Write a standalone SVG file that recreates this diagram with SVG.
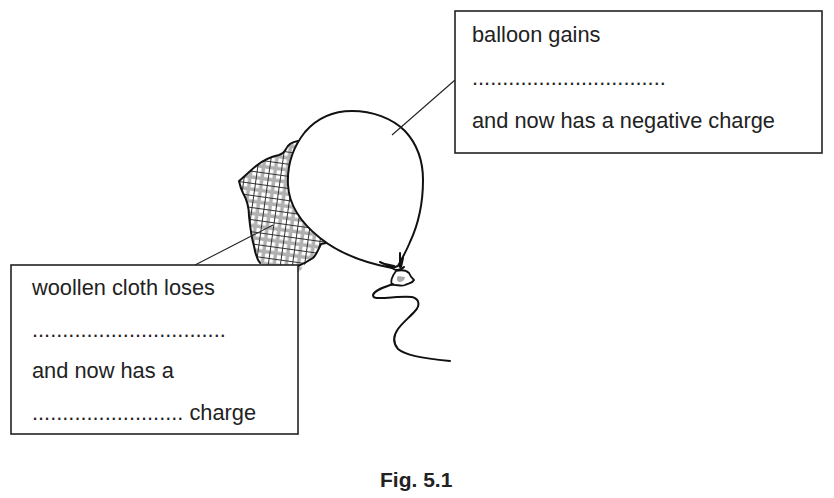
<svg xmlns="http://www.w3.org/2000/svg" width="834" height="498" viewBox="0 0 834 498">
<defs>
<pattern id="plaid" width="12" height="12" patternUnits="userSpaceOnUse" patternTransform="rotate(8)">
<rect width="12" height="12" fill="#ffffff"/>
<rect x="6.5" y="0" width="3.5" height="12" fill="#b0b0b0"/>
<rect x="0" y="6.5" width="12" height="3.5" fill="#b0b0b0"/>
<line x1="2.5" y1="0" x2="2.5" y2="12" stroke="#333" stroke-width="1"/>
<line x1="0" y1="2.5" x2="12" y2="2.5" stroke="#333" stroke-width="1"/>
</pattern>
<style>
.box{fill:#fff;stroke:#222;stroke-width:1.6}
.t{font-family:"Liberation Sans",Arial,sans-serif;font-size:21.8px;fill:#222}
.lead{stroke:#222;stroke-width:1.1;fill:none}
.ol{stroke:#111;stroke-width:2;fill:none;stroke-linejoin:round;stroke-linecap:round}
.bf{stroke:#111;stroke-width:2;fill:#fff;stroke-linejoin:round}
</style>
</defs>
<rect width="834" height="498" fill="#fff"/>

<g id="cloth">
<path d="M 298 141 C 292 142 288 144 286 149 C 284 153 282 154 279 155 C 270 157 262 161 256 166 C 251 170 245 176 239 181 C 240 186 242 191 243 193 C 247 200 249 208 249 216 C 250 226 251 236 254 246 C 255 252 256 258 260 263 L 266 272 L 300 272 C 303 266 306 262 313 258 C 317 254 318 250 321 244 L 326 243 L 335 225 L 315 150 Z" fill="url(#plaid)"/>
<path class="ol" d="M 298 141 C 292 142 288 144 286 149 C 284 153 282 154 279 155 C 270 157 262 161 256 166 C 251 170 245 176 239 181 C 240 186 242 191 243 193 C 247 200 249 208 249 216 C 250 226 251 236 254 246 C 255 252 256 258 260 263"/>
<path class="ol" d="M 298 266 C 303 264 307 262 313 258 C 317 254 318 250 321 244 L 326 243"/>
</g>

<g id="balloon">
<path class="bf" d="M 392 268 C 360 262 335 250 320 238 C 300 222 289 205 288 185 C 287 165 293 147 305 132 C 318 117 335 111 352 111 C 372 111 392 118 405 131 C 418 145 423 162 423 180 C 423 205 418 225 410 242 C 406 252 401 260 398 266 Z"/>
<path class="ol" d="M 392 268 C 396 271 400 271 404 267"/>
<path d="M 396 271 C 393 275 390 281 392 285 C 396 284 401 287 405 285 C 408 283 412 284 414 280 C 412 278 410 276 409 273 C 406 270 400 270 396 271 Z" fill="#fff" stroke="#111" stroke-width="1.8" stroke-linejoin="round"/>
<path d="M 398 276 C 396 279 397 281 399 282 C 402 282 405 280 405 277 Z" fill="#aaa" stroke="none"/>
<path class="ol" stroke-width="1.1" d="M 380 262 L 393 268 M 385 264 L 394 266 M 400 253 L 400 267 M 403 258 L 401 267"/>
<path class="ol" stroke-width="1.6" d="M 393 284 C 385 287 374 290 373 295 C 373 299 378 298 385 298 C 395 297 405 296 412 297 C 420 299 420 306 415 311 C 410 317 403 322 398 329 C 393 336 393 343 398 349 C 405 355 420 358 450 361"/>
</g>

<g id="connectors">
<line class="lead" x1="455" y1="80" x2="392" y2="135"/>
<line class="lead" x1="195" y1="265" x2="273" y2="225"/>
</g>

<g id="box-balloon">
<rect class="box" x="455" y="11" width="367" height="142"/>
<text class="t" x="472" y="42">balloon gains</text>
<text class="t" x="472" y="85">................................</text>
<text class="t" x="472" y="128">and now has a negative charge</text>
</g>

<g id="box-cloth">
<rect class="box" x="11" y="265" width="287" height="169"/>
<text class="t" x="32" y="295">woollen cloth loses</text>
<text class="t" x="32" y="337">................................</text>
<text class="t" x="32" y="378">and now has a</text>
<text class="t" x="32" y="420">......................... charge</text>
</g>

<text x="380" y="487" style="font-family:'Liberation Sans',Arial,sans-serif;font-size:21px;font-weight:bold;fill:#222">Fig. 5.1</text>
</svg>
